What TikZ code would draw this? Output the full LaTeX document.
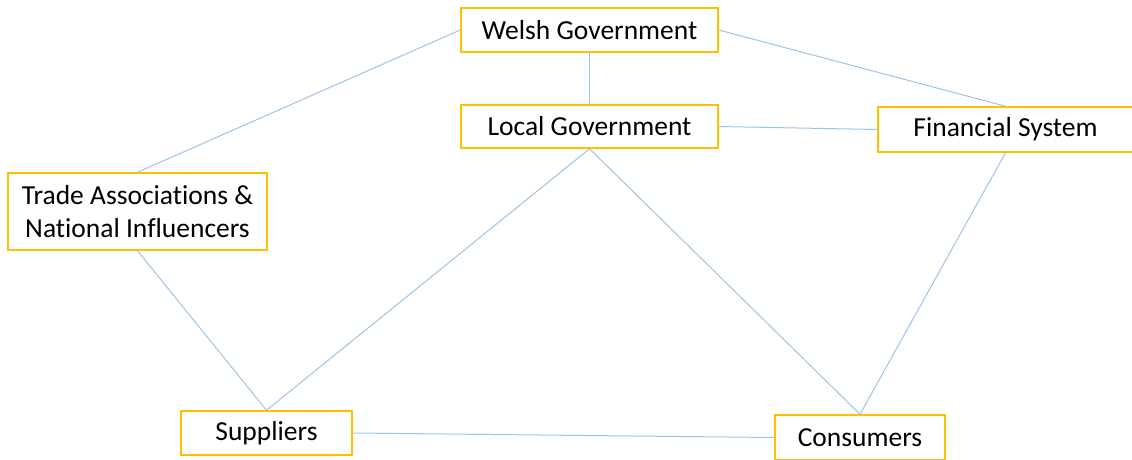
\documentclass[tikz,border=0pt]{standalone}
\usepackage{fontspec}
\setmainfont{Carlito}[Ligatures=NoCommon]
\usepackage{xcolor}
\usetikzlibrary{positioning}
\definecolor{boxgold}{HTML}{FFC000}
\definecolor{linkblue}{HTML}{9DC3E6}
\tikzset{
  actor/.style={draw=boxgold,line width=1.5pt,fill=white,inner sep=0pt,align=center,
    font=\fontsize{27.5}{33}\selectfont},
  link/.style={draw=linkblue,line width=1pt}
}

\begin{document}
\begin{tikzpicture}[x=1pt,y=-1pt]
\useasboundingbox (0,0) rectangle (1132,459);
\node[actor,minimum width=257,minimum height=44] (welsh) at (589.5,30) {Welsh Government};
\node[actor,minimum width=257,minimum height=43] (local) at (589.5,126.5) {Local Government};
\node[actor,minimum width=255,minimum height=45] (fin) at (1005.5,129.5) {Financial System};
\node[actor,minimum width=259,minimum height=77] (trade) at (137.5,211.5) {Trade Associations \&\\National Influencers};
\node[actor,minimum width=171,minimum height=44] (supp) at (266.5,433) {Suppliers};
\node[actor,minimum width=170,minimum height=45] (cons) at (860,437.5) {Consumers};
% connections
\draw[link] (welsh.west) -- (trade.north);
\draw[link] (welsh.south) -- (local.north);
\draw[link] (welsh.east) -- (fin.north);
\draw[link] (local.east) -- (fin.west);
\draw[link] (local.south) -- (supp.north);
\draw[link] (local.south) -- (cons.north);
\draw[link] (fin.south) -- (cons.north);
\draw[link] (trade.south) -- (supp.north);
\draw[link] (supp.east) -- (cons.west);
\end{tikzpicture}
\end{document}
